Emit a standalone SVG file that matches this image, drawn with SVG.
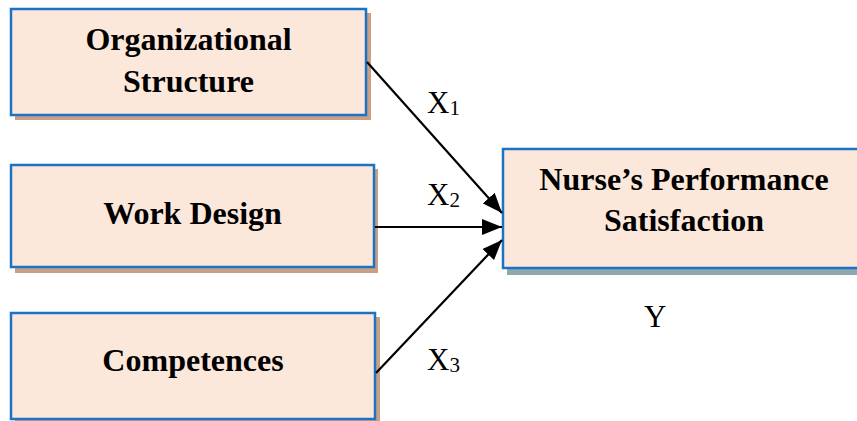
<svg xmlns="http://www.w3.org/2000/svg" width="857" height="421" viewBox="0 0 857 421">
<style>
.box{fill:#fce8da;stroke:#1a73c4;stroke-width:2.5}
.sh{fill:#c9a085}
.sh2{fill:#8fa8b0}
.t{font-family:"Liberation Serif","Times New Roman",serif;font-weight:bold;font-size:32px;fill:#000;text-anchor:middle}
.l{font-family:"Liberation Serif","Times New Roman",serif;font-size:31px;fill:#000}
.sub{font-size:21px}
.c{stroke:#000;stroke-width:2.2;fill:none;marker-end:url(#ah)}
</style>
<defs>
<marker id="ah" markerUnits="userSpaceOnUse" markerWidth="20" markerHeight="16" viewBox="0 0 20 16" refX="20" refY="8" orient="auto">
<path d="M0,0 L20,8 L0,16 z" fill="#000"/>
</marker>
</defs>
<rect width="857" height="421" fill="#fff"/>
<g id="n1">
<rect class="sh" x="15" y="13" width="356" height="107"/>
<rect class="box" x="11" y="9" width="355" height="106"/>
<text class="t" x="188.5" y="50">Organizational</text>
<text class="t" x="188.5" y="92">Structure</text>
</g>
<g id="n2">
<rect class="sh" x="15" y="169" width="363" height="104"/>
<rect class="box" x="11" y="165" width="363" height="102"/>
<text class="t" x="192.5" y="224">Work Design</text>
</g>
<g id="n3">
<rect class="sh" x="15" y="317" width="365" height="106"/>
<rect class="box" x="11" y="313" width="364" height="106"/>
<text class="t" x="193" y="371">Competences</text>
</g>
<g id="n4">
<rect class="sh2" x="507" y="153" width="360" height="122"/>
<rect class="box" x="503" y="149" width="362" height="119"/>
<text class="t" x="684" y="190">Nurse’s Performance</text>
<text class="t" x="684" y="231">Satisfaction</text>
</g>
<g id="connectors">
<line class="c" x1="367" y1="62" x2="502" y2="213"/>
<line class="c" x1="375" y1="227" x2="502" y2="227"/>
<line class="c" x1="376" y1="373" x2="502" y2="240"/>
</g>
<g id="labels">
<text class="l" x="427" y="113">X<tspan class="sub" dy="2">1</tspan></text>
<text class="l" x="427" y="205">X<tspan class="sub" dy="2">2</tspan></text>
<text class="l" x="427" y="370">X<tspan class="sub" dy="2">3</tspan></text>
<text class="l" x="644" y="327">Y</text>
</g>
</svg>
